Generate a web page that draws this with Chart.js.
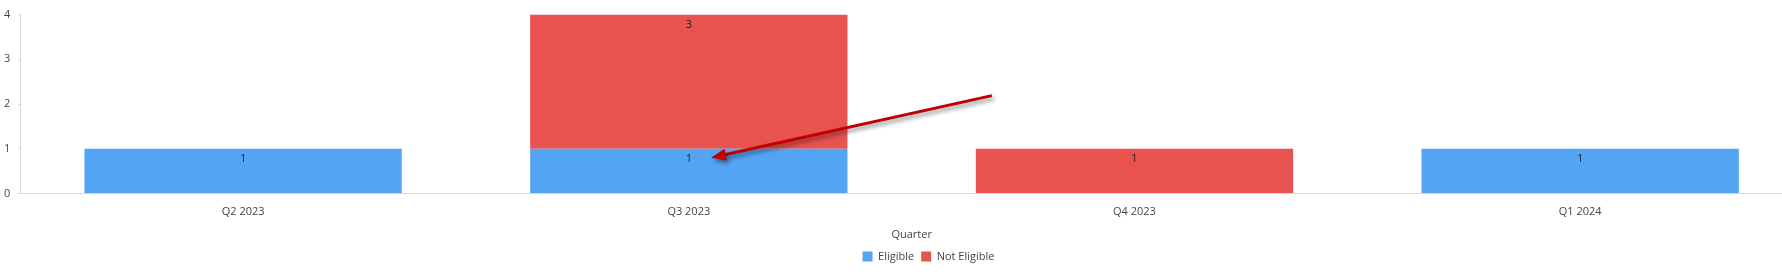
<!DOCTYPE html>
<html>
<head>
<meta charset="utf-8">
<script src="https://cdn.jsdelivr.net/npm/chart.js@4.4.1/dist/chart.umd.min.js"></script>
<style>
    html, body { margin: 0; padding: 0; background: #fff; overflow: hidden; }
    #wrap { width: 1803px; height: 276px; }
</style>
</head>
<body>
<div id="wrap"><canvas id="quarterChart" width="1803" height="276"></canvas></div>
<script>
// Datos del gráfico
const quarters = ['Q2 2023', 'Q3 2023', 'Q4 2023', 'Q1 2024'];
const eligible = [1, 1, 0, 1];
const notEligible = [0, 3, 1, 0];
const yTicks = [0, 1, 2, 3, 4];

// Flecha de anotación (en coordenadas de datos: índice de categoría, valor)
const arrowFrom = [1.68, 2.19];
const arrowTo = [1.05, 0.80];

const FONT = "'Open Sans', sans-serif";
const TEXT_COLOR = '#444';

// Etiquetas de valor dentro de cada barra
const valueLabels = {
    id: 'valueLabels',
    afterDatasetsDraw(chart) {
        const ctx = chart.ctx;
        ctx.save();
        ctx.font = '11px ' + FONT;
        ctx.fillStyle = '#222';
        ctx.textAlign = 'center';
        ctx.textBaseline = 'middle';
        chart.data.datasets.forEach((ds, i) => {
            const meta = chart.getDatasetMeta(i);
            meta.data.forEach((bar, j) => {
                const v = ds.data[j];
                if (!v) return;
                ctx.fillText(String(v), bar.x, bar.y + 10);
            });
        });
        ctx.restore();
    }
};

// Flecha roja con sombra
const arrowNote = {
    id: 'arrowNote',
    afterDraw(chart) {
        const xs = chart.scales.x, ys = chart.scales.y;
        const catW = xs.getPixelForValue(1) - xs.getPixelForValue(0);
        const x1 = xs.getPixelForValue(0) + arrowFrom[0] * catW;
        const y1 = ys.getPixelForValue(arrowFrom[1]);
        const x2 = xs.getPixelForValue(0) + arrowTo[0] * catW;
        const y2 = ys.getPixelForValue(arrowTo[1]);
        const ang = Math.atan2(y2 - y1, x2 - x1);
        const headLen = 15, headW = 6;
        const bx = x2 - headLen * Math.cos(ang), by = y2 - headLen * Math.sin(ang);
        const ctx = chart.ctx;
        ctx.save();
        ctx.shadowColor = 'rgba(0,0,0,0.45)';
        ctx.shadowBlur = 4;
        ctx.shadowOffsetX = 2;
        ctx.shadowOffsetY = 3;
        ctx.strokeStyle = '#c00000';
        ctx.fillStyle = '#c00000';
        ctx.lineWidth = 3;
        ctx.beginPath();
        ctx.moveTo(x1, y1);
        ctx.lineTo(bx, by);
        ctx.stroke();
        ctx.beginPath();
        ctx.moveTo(x2, y2);
        ctx.lineTo(bx + headW * Math.sin(ang), by - headW * Math.cos(ang));
        ctx.lineTo(bx - headW * Math.sin(ang), by + headW * Math.cos(ang));
        ctx.closePath();
        ctx.fill();
        ctx.restore();
    }
};

// Centrar la leyenda como en el original
const legendShift = {
    id: 'legendShift',
    afterLayout(chart) {
        chart.legend.left += 29;
        chart.legend.right += 29;
    }
};

const ctx = document.getElementById('quarterChart').getContext('2d');
const quarterChart = new Chart(ctx, {
    type: 'bar',
    data: {
        labels: quarters,
        datasets: [{
            label: 'Eligible',
            data: eligible,
            backgroundColor: '#53a5f3',
            borderWidth: 0
        }, {
            label: 'Not Eligible',
            data: notEligible,
            backgroundColor: '#e8534f',
            borderWidth: 0
        }]
    },
    options: {
        responsive: false,
        animation: false,
        devicePixelRatio: 1,
        layout: {
            padding: { top: 5, left: -4, right: 0, bottom: 4 }
        },
        datasets: {
            bar: { categoryPercentage: 0.8, barPercentage: 0.89 }
        },
        plugins: {
            legend: {
                position: 'bottom',
                labels: {
                    boxWidth: 10,
                    boxHeight: 10,
                    padding: 7,
                    color: TEXT_COLOR,
                    font: { family: FONT, size: 11 }
                }
            },
            tooltip: { enabled: false }
        },
        scales: {
            x: {
                stacked: true,
                grid: { display: false },
                border: { display: true, color: '#d9d9d9' },
                ticks: {
                    padding: 4,
                    color: TEXT_COLOR,
                    font: { family: FONT, size: 11 }
                },
                title: {
                    display: true,
                    text: 'Quarter',
                    color: TEXT_COLOR,
                    padding: { top: 5, bottom: 3 },
                    font: { family: FONT, size: 11 }
                }
            },
            y: {
                stacked: true,
                min: yTicks[0],
                max: yTicks[yTicks.length - 1],
                afterBuildTicks(axis) {
                    axis.ticks = yTicks.map(v => ({ value: v }));
                },
                grid: {
                    drawOnChartArea: false,
                    drawTicks: true,
                    tickLength: 2,
                    color: '#d9d9d9'
                },
                border: { display: true, color: '#d9d9d9' },
                ticks: {
                    padding: 8,
                    color: TEXT_COLOR,
                    font: { family: FONT, size: 11 }
                }
            }
        }
    },
    plugins: [valueLabels, arrowNote, legendShift]
});
</script>
</body>
</html>
